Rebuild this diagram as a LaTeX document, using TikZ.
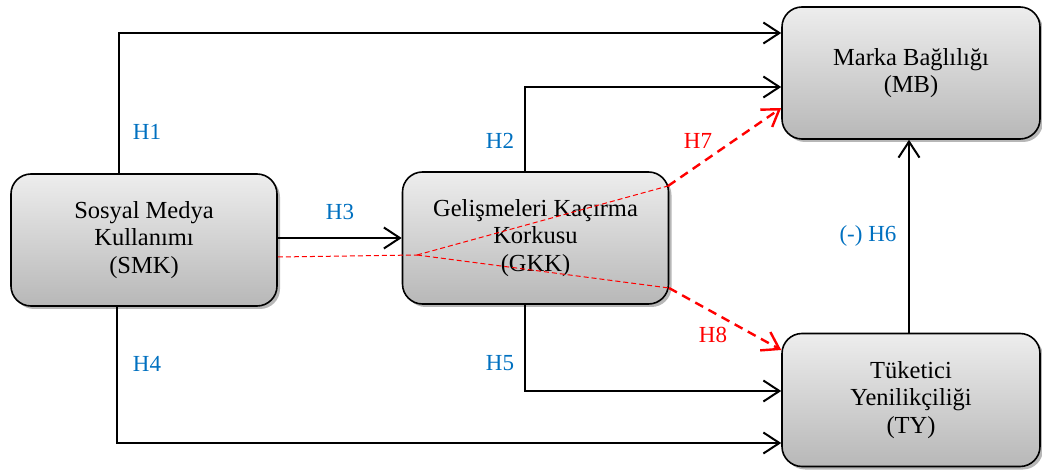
\documentclass[tikz,border=0pt]{standalone}
\usepackage{fontspec}
\setmainfont{Liberation Serif}
\usetikzlibrary{arrows.meta,shadows,calc}
\definecolor{hblue}{RGB}{0,112,192}
\definecolor{hred}{RGB}{255,0,0}
\tikzset{
  box/.style={draw=black, line width=1.6pt, rounded corners=20pt, top color=black!7, bottom color=black!28,
    drop shadow={shadow xshift=3pt, shadow yshift=-3pt, fill=black!40, opacity=0.7},
    align=center, font=\fontsize{24.5}{27.5}\selectfont, inner sep=0pt},
  arr/.style={draw=black, line width=2pt, -{Straight Barb[length=16pt,width=21pt,line width=2pt]}},
  redarr/.style={draw=hred, line width=2.4pt, dash pattern=on 9pt off 6pt, -{Straight Barb[length=16pt,width=21pt,line width=2.4pt]}},
  redthin/.style={draw=hred, line width=1pt, dash pattern=on 5pt off 3pt},
  hlab/.style={text=hblue, font=\fontsize{23}{25}\selectfont, inner sep=0pt},
  rlab/.style={text=hred, font=\fontsize{23}{25}\selectfont, inner sep=0pt},
}
\begin{document}
\begin{tikzpicture}[x=1pt,y=-1pt]
\useasboundingbox (0,0) rectangle (1042,470);
\node[box, minimum width=266pt, minimum height=132pt] (smk) at (144,240) {Sosyal Medya\\Kullanımı\\(SMK)};
\node[box, minimum width=266pt, minimum height=132pt] (gkk) at (535.5,238) {Gelişmeleri Kaçırma\\Korkusu\\(GKK)};
\node[box, minimum width=258pt, minimum height=132pt] (mb) at (911,73) {Marka Bağlılığı\\(MB)};
\node[box, minimum width=258pt, minimum height=133pt] (ty) at (911,400) {Tüketici\\Yenilikçiliği\\(TY)};

% black connectors
\draw[arr] ([xshift=-25pt]smk.north) |- ([yshift=40pt]mb.west);
\draw[arr] ([xshift=-10.5pt]gkk.north) |- ([yshift=-14pt]mb.west);
\draw[arr] ([yshift=2pt]smk.east) -- (gkk.west);
\draw[arr] ([xshift=-27pt]smk.south) |- ([yshift=-43pt]ty.west);
\draw[arr] ([xshift=-10.5pt]gkk.south) |- ([yshift=9pt]ty.west);
\draw[arr] ([xshift=-2pt]ty.north) -- ([xshift=-2pt]mb.south);

% red mediation paths
\coordinate (j) at (417,255);
\coordinate (p7) at (668,186);
\coordinate (p8) at (669,288);
\draw[redthin] ([yshift=-17pt]smk.east) -- (j);
\draw[redthin] (j) -- (p7);
\draw[redthin] (j) -- (p8);
\draw[redarr] (p7) -- ([yshift=-35pt]mb.west);
\draw[redarr] (p8) -- ([yshift=50pt]ty.west);

% labels
\node[hlab] (h1) at (147,132) {H1};
\node[hlab] (h2) at (500,141) {H2};
\node[hlab] (h3) at (340,212) {H3};
\node[hlab] (h4) at (147,364) {H4};
\node[hlab] (h5) at (500,363) {H5};
\node[hlab] (h6) at (868,236) {(-) H6};
\node[rlab] (h7) at (698,141) {H7};
\node[rlab] (h8) at (713,335) {H8};
\end{tikzpicture}
\end{document}
